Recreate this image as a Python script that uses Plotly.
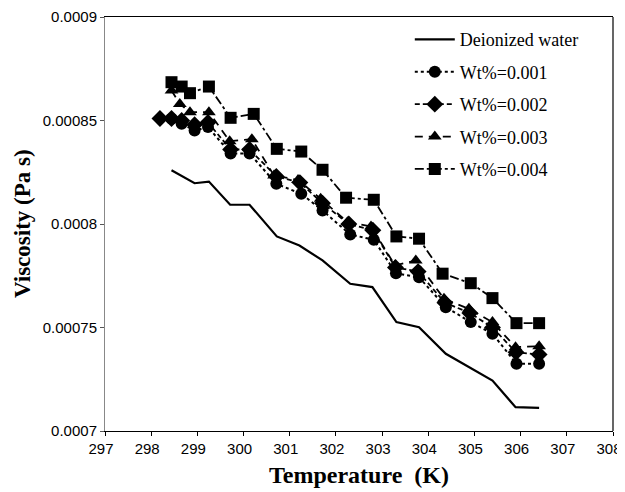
import plotly.graph_objects as go

# Deionized water
water_t = [298.44, 298.94, 299.25, 299.71, 300.13, 300.72, 301.21, 301.71, 302.31,
           302.79, 303.31, 303.80, 304.38, 304.88, 305.39, 305.89, 306.40]
water_v = [0.000826, 0.0008197, 0.0008205, 0.0008093, 0.0008093, 0.000794, 0.0007896,
           0.0007824, 0.0007711, 0.0007695, 0.0007526, 0.0007501, 0.0007373, 0.0007308,
           0.0007244, 0.0007115, 0.0007112]

# Wt%=0.001 (circles)
w1_t = [298.44, 298.66, 298.94, 299.23, 299.72, 300.13, 300.71, 301.25, 301.71,
        302.31, 302.82, 303.30, 303.80, 304.38, 304.92, 305.39, 305.91, 306.40]
w1_v = [0.0008508, 0.0008484, 0.0008452, 0.0008468, 0.0008341, 0.0008341, 0.0008194,
        0.0008146, 0.0008065, 0.0007949, 0.0007924, 0.0007762, 0.0007743, 0.0007598,
        0.0007526, 0.000747, 0.0007325, 0.0007325]

# Wt%=0.002 (diamonds)
w2_t = [298.19, 298.44, 298.66, 298.94, 299.23, 299.72, 300.13, 300.71, 301.22, 301.71,
        302.28, 302.80, 303.29, 303.78, 304.36, 304.90, 305.39, 305.90, 306.40]
w2_v = [0.000851, 0.000851, 0.00085, 0.000848, 0.000849, 0.000836, 0.000836, 0.000823,
        0.00082, 0.00081, 0.0008, 0.000797, 0.000779, 0.000777, 0.000762, 0.000757,
        0.00075, 0.000738, 0.000737]

# Wt%=0.003 (triangles)
w3_t = [298.44, 298.62, 298.84, 299.25, 299.70, 300.18, 300.66, 301.18, 301.67,
        302.25, 302.76, 303.28, 303.73, 304.34, 304.88, 305.39, 305.89, 306.40]
w3_v = [0.0008645, 0.000858, 0.000854, 0.000854, 0.00084, 0.000841, 0.0008234,
        0.0008213, 0.0008122, 0.0008009, 0.0007988, 0.00078, 0.0007824, 0.0007639,
        0.000759, 0.0007526, 0.0007405, 0.000741]

# Wt%=0.004 (squares)
w4_t = [298.44, 298.66, 298.84, 299.25, 299.72, 300.22, 300.72, 301.25, 301.71,
        302.22, 302.82, 303.31, 303.80, 304.31, 304.92, 305.39, 305.91, 306.40]
w4_v = [0.0008685, 0.0008664, 0.0008632, 0.0008664, 0.0008513, 0.0008532, 0.0008363,
        0.000835, 0.0008262, 0.0008127, 0.0008117, 0.000794, 0.0007929, 0.000776,
        0.0007714, 0.0007642, 0.0007521, 0.0007521]

x_ticks = list(range(297, 309))
y_ticks = [0.0007, 0.00075, 0.0008, 0.00085, 0.0009]
y_ticktext = ["0.0007", "0.00075", "0.0008", "0.00085", "0.0009"]

SERIF = "Liberation Serif, Times New Roman, serif"
SANS = "Liberation Sans, Arial, sans-serif"

fig = go.Figure()

fig.add_trace(go.Scatter(
    x=water_t, y=water_v, name="Deionized water", mode="lines",
    line=dict(color="black", width=2.2), legendgroup="a"
))
fig.add_trace(go.Scatter(
    x=w1_t, y=w1_v, name="Wt%=0.001", mode="lines+markers",
    line=dict(color="black", width=2, dash="dot"),
    marker=dict(symbol="circle", size=12, color="black"), legendgroup="b"
))
fig.add_trace(go.Scatter(
    x=w2_t, y=w2_v, name="Wt%=0.002", mode="lines+markers",
    line=dict(color="black", width=1.8, dash="5px,3px"),
    marker=dict(symbol="diamond", size=13, color="black"), legendgroup="c"
))
fig.add_trace(go.Scatter(
    x=w3_t, y=w3_v, name="Wt%=0.003", mode="lines+markers",
    line=dict(color="black", width=1.8, dash="8px,6px"),
    marker=dict(symbol="triangle-up", size=12, color="black"), legendgroup="d"
))
fig.add_trace(go.Scatter(
    x=w4_t, y=w4_v, name="Wt%=0.004", mode="lines+markers",
    line=dict(color="black", width=1.8, dash="dashdot"),
    marker=dict(symbol="square", size=12, color="black"), legendgroup="e"
))

# page body keeps an 8px margin, so the figure is sized to the window minus that
fig.update_layout(
    width=617, height=484,
    paper_bgcolor="white", plot_bgcolor="white",
    margin=dict(l=97, r=12, t=9, b=61),
    font=dict(family=SANS, color="black", size=15),
    showlegend=True,
    legend=dict(
        x=0.6, y=0.99, xanchor="left", yanchor="top",
        bgcolor="rgba(0,0,0,0)", borderwidth=0,
        font=dict(family=SERIF, size=18, color="black"),
        itemwidth=40, tracegroupgap=6,
    ),
    xaxis=dict(
        range=[297, 308], tickvals=x_ticks, automargin=False,
        ticklabeloverflow="allow", ticklabelshift=-4,
        showgrid=False, zeroline=False,
        showline=True, linecolor="black", linewidth=1.2, mirror=True,
        ticks="outside", ticklen=4, tickcolor="black",
        tickfont=dict(family=SANS, size=15),
        title=dict(text="Temperature  (K)", font=dict(family=SERIF, size=24, weight="bold"),
                   standoff=10),
    ),
    yaxis=dict(
        range=[0.0007, 0.0009], tickvals=y_ticks, ticktext=y_ticktext, automargin=False,
        showgrid=False, zeroline=False,
        showline=True, linecolor="#888888", linewidth=1,
        ticks="outside", ticklen=4, tickcolor="#555555",
        tickfont=dict(family=SANS, size=15),
    ),
    annotations=[dict(
        text="Viscosity (Pa s)", textangle=-90, showarrow=False,
        xref="paper", yref="paper", x=0, y=0.5, xanchor="center", yanchor="middle",
        xshift=-83, font=dict(family=SERIF, size=23, weight="bold", color="black"),
    )],
    shapes=[dict(type="line", xref="paper", yref="paper", x0=1, x1=1, y0=0, y1=1,
                 line=dict(color="black", width=1.2))],
)

fig.write_html("out.html")
